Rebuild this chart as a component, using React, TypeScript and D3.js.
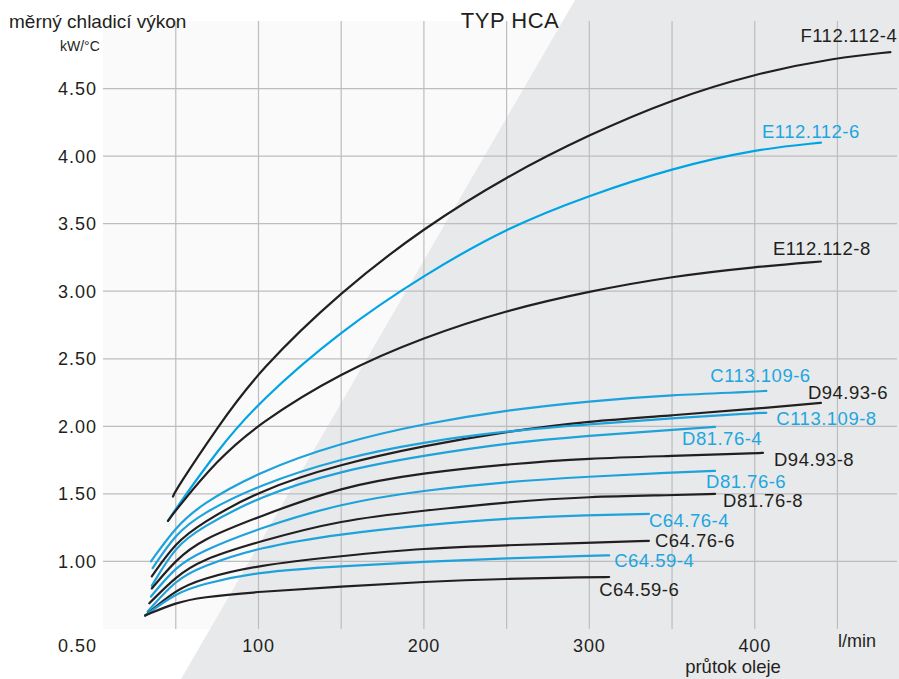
import React from 'react';
import * as d3 from 'd3';

type Pt = [number, number];

// osa y (kW/°C) a osa x (l/min)
const yTickValues = [1.0, 1.5, 2.0, 2.5, 3.0, 3.5, 4.0, 4.5];
const xTickValues = [100, 200, 300, 400];
const xGridValues = [50, 100, 150, 200, 250, 300, 350, 400, 450];

// odečtené body křivek [průtok, výkon]
const F112_112_4: Pt[] = [[48.3, 1.48], [50, 1.53], [75, 1.99], [100, 2.41], [150, 3.0], [200, 3.47], [250, 3.85], [300, 4.16], [350, 4.42], [400, 4.61], [450, 4.73], [482, 4.77]];
const E112_112_6: Pt[] = [[45.3, 1.3], [50, 1.39], [75, 1.82], [100, 2.18], [150, 2.71], [200, 3.12], [250, 3.47], [300, 3.71], [350, 3.91], [400, 4.05], [440, 4.1]];
const E112_112_8: Pt[] = [[45.3, 1.3], [50, 1.38], [75, 1.75], [100, 2.02], [150, 2.4], [200, 2.66], [250, 2.86], [300, 3.0], [350, 3.11], [400, 3.18], [440, 3.22]];
const C113_109_6: Pt[] = [[35, 1.0], [50, 1.255], [65, 1.42], [100, 1.663], [150, 1.88], [200, 2.02], [250, 2.12], [300, 2.187], [350, 2.233], [400, 2.255], [407, 2.263]];
const D94_93_6: Pt[] = [[35.5, 0.89], [50, 1.14], [65, 1.278], [100, 1.525], [150, 1.722], [200, 1.856], [250, 1.962], [300, 2.04], [350, 2.08], [400, 2.13], [440, 2.174]];
const C113_109_8: Pt[] = [[36, 0.95], [50, 1.204], [65, 1.35], [100, 1.565], [150, 1.764], [200, 1.885], [250, 1.965], [300, 2.016], [350, 2.06], [400, 2.098], [407, 2.1]];
const D81_76_4: Pt[] = [[35.5, 0.82], [50, 1.115], [65, 1.246], [100, 1.48], [150, 1.673], [200, 1.784], [250, 1.876], [300, 1.932], [350, 1.974], [376, 1.996]];
const D94_93_8: Pt[] = [[35.5, 0.8], [50, 1.011], [65, 1.159], [100, 1.33], [150, 1.554], [200, 1.656], [250, 1.72], [300, 1.764], [350, 1.78], [400, 1.8], [405, 1.804]];
const D81_76_6: Pt[] = [[35, 0.74], [50, 0.962], [65, 1.073], [100, 1.245], [150, 1.431], [200, 1.527], [250, 1.59], [300, 1.628], [350, 1.658], [376, 1.67]];
const D81_76_8: Pt[] = [[34, 0.69], [50, 0.887], [65, 1.01], [100, 1.147], [150, 1.307], [200, 1.376], [250, 1.44], [300, 1.48], [350, 1.49], [376, 1.5]];
const C64_76_4: Pt[] = [[33, 0.63], [50, 0.863], [65, 0.96], [100, 1.105], [150, 1.205], [200, 1.27], [250, 1.32], [300, 1.344], [336, 1.352]];
const C64_76_6: Pt[] = [[31.5, 0.6], [50, 0.789], [65, 0.87], [100, 0.974], [150, 1.04], [200, 1.098], [250, 1.12], [300, 1.139], [336, 1.152]];
const C64_59_4: Pt[] = [[31.5, 0.6], [50, 0.764], [65, 0.83], [100, 0.925], [150, 0.965], [200, 0.999], [250, 1.024], [300, 1.041], [312, 1.045]];
const C64_59_6: Pt[] = [[31.5, 0.6], [50, 0.695], [65, 0.735], [100, 0.776], [150, 0.815], [200, 0.85], [250, 0.872], [300, 0.883], [312, 0.885]];

const seriesNames = ['F112.112-4', 'E112.112-6', 'E112.112-8', 'C113.109-6', 'D94.93-6', 'C113.109-8', 'D81.76-4', 'D94.93-8', 'D81.76-6', 'D81.76-8', 'C64.76-4', 'C64.76-6', 'C64.59-4', 'C64.59-6'];
const seriesData = [F112_112_4, E112_112_6, E112_112_8, C113_109_6, D94_93_6, C113_109_8, D81_76_4, D94_93_8, D81_76_6, D81_76_8, C64_76_4, C64_76_6, C64_59_4, C64_59_6];

// vzhled
const BLACK = '#231f20';
const BLUE = '#1ea2dc';
const BLUE_BRIGHT = '#00a4e4';
const seriesColors = [BLACK, BLUE_BRIGHT, BLACK, BLUE, BLACK, BLUE, BLUE, BLACK, BLUE, BLACK, BLUE, BLACK, BLUE, BLACK];
// posun popisku od konce křivky (levý okraj textu, účaří)
const labelOffsets: Pt[] = [[-90, -10], [-59, -5], [-48, -6], [-56, -9], [-13, -4], [10, 12], [-33, 18], [11, 13], [-9, 17], [8, 13], [0, 13], [6, 6], [5, 12], [-10, 19]];

const W = 899;
const H = 679;
const m = { left: 103, right: 897, top: 21, bottom: 629 };
const FONT = '"Liberation Sans", Arial, Helvetica, sans-serif';

export default function App() {
  const x = d3.scaleLinear().domain([6, 486]).range([m.left, m.right]);
  const y = d3.scaleLinear().domain([0.5, 5.0]).range([m.bottom, m.top]);

  const line = d3.line<Pt>()
    .x(d => x(d[0]))
    .y(d => y(d[1]))
    .curve(d3.curveBasis);

  const diag = [[575, 0], [W, 0], [W, H], [181, H]].map(p => p.join(',')).join(' ');

  return (
    <svg width={W} height={H} viewBox={`0 0 ${W} ${H}`}
      style={{ position: 'absolute', left: 0, top: 0, display: 'block', background: '#fff' }}
      fontFamily={FONT}>
      {/* pozadí grafu */}
      <rect x={m.left} y={m.top} width={m.right - m.left} height={m.bottom - m.top} fill="#fafafa" />
      <polygon points={diag} fill="#e8e9eb" />

      {/* mřížka */}
      <g stroke="#bdbdbf" strokeWidth={1.2}>
        {xGridValues.map(v => (
          <line key={'gx' + v} x1={x(v)} x2={x(v)} y1={m.top} y2={m.bottom} />
        ))}
        {yTickValues.map(v => (
          <line key={'gy' + v} x1={m.left} x2={m.right} y1={y(v)} y2={y(v)} />
        ))}
      </g>

      {/* křivky */}
      <g fill="none" strokeLinecap="round">
        {seriesData.map((d, i) => (
          <path key={seriesNames[i]} d={line(d) || ''} stroke={seriesColors[i]} strokeWidth={2.2} />
        ))}
      </g>

      {/* popisky křivek */}
      <g fontSize={18.5} letterSpacing={0.5}>
        {seriesData.map((d, i) => {
          const last = d[d.length - 1];
          return (
            <text key={'l' + seriesNames[i]} x={x(last[0]) + labelOffsets[i][0]} y={y(last[1]) + labelOffsets[i][1]}
              fill={seriesColors[i] === BLACK ? BLACK : '#1ea6e0'}>
              {seriesNames[i]}
            </text>
          );
        })}
      </g>

      {/* osa y */}
      <g fontSize={18} letterSpacing={1} fill={BLACK} textAnchor="end">
        {yTickValues.map(v => (
          <text key={'ty' + v} x={97} y={y(v) + 6.5}>{d3.format('.2f')(v)}</text>
        ))}
        <text x={97} y={652}>{d3.format('.2f')(0.5)}</text>
      </g>

      {/* osa x */}
      <g fontSize={18} letterSpacing={0.8} fill={BLACK} textAnchor="middle">
        {xTickValues.map(v => (
          <text key={'tx' + v} x={x(v)} y={652}>{v}</text>
        ))}
      </g>
      <text x={857} y={647} fontSize={18} textAnchor="middle" fill={BLACK}>l/min</text>
      <text x={733} y={673} fontSize={18.5} textAnchor="middle" fill={BLACK}>průtok oleje</text>

      {/* titulky */}
      <text x={9} y={28} fontSize={19} fill={BLACK}>měrný chladicí výkon</text>
      <text x={60} y={51} fontSize={14} fill={BLACK}>kW/°C</text>
      <text x={510} y={28} fontSize={22} textAnchor="middle" letterSpacing={0.5} fill={BLACK}>TYP HCA</text>
    </svg>
  );
}
